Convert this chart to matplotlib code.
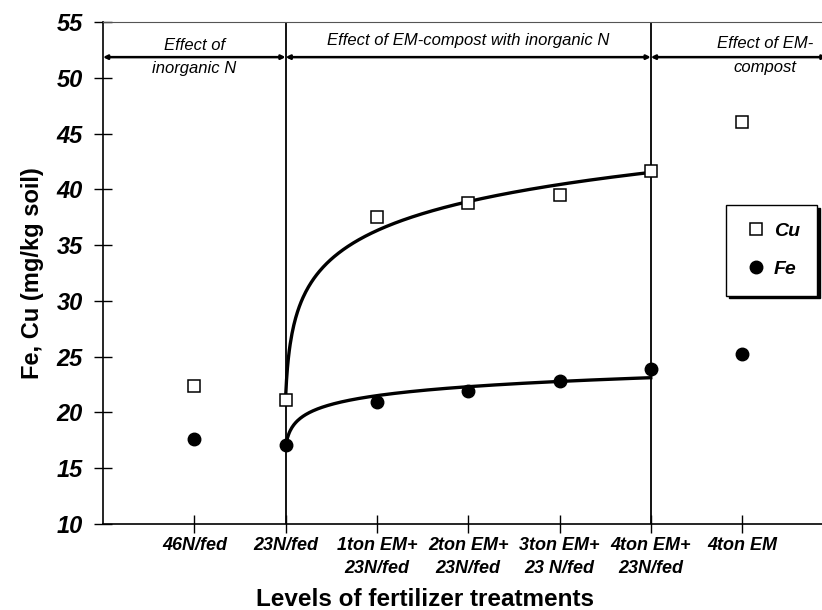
import numpy as np
import matplotlib
matplotlib.use("Agg")
import matplotlib.pyplot as plt

plt.rcParams['font.family'] = ['Liberation Sans', 'DejaVu Sans']

categories = ["46N/fed", "23N/fed", "1ton EM+\n23N/fed", "2ton EM+\n23N/fed",
              "3ton EM+\n23 N/fed", "4ton EM+\n23N/fed", "4ton EM"]
cu = [22.4, 21.1, 37.5, 38.8, 39.5, 41.6, 46.0]
fe = [17.6, 17.1, 20.9, 21.9, 22.8, 23.9, 25.2]
y_ticks = [10, 15, 20, 25, 30, 35, 40, 45, 50, 55]

pos = np.arange(1, len(categories) + 1)

W, H = 822, 610
fig = plt.figure(figsize=(W / 100, H / 100), dpi=100)
ax = fig.add_axes([103 / W, 1 - 524 / H, 1 - 103 / W, (524 - 22) / H])

ax.set_xlim(0, (W - 103) / 91.3)
ax.set_ylim(10, 55)

# logarithmic trend lines over the EM-compost + inorganic N treatments (positions 2..6)
x0 = 1.98
sel = slice(1, 6)
xx = np.linspace(pos[1], pos[5], 400)
for series in (cu, fe):
    t = np.log(pos[sel] - x0)
    a, b = np.polyfit(t, np.array(series[sel]), 1)
    ax.plot(xx, a * np.log(xx - x0) + b, color='black', lw=2.4, zorder=3)

# section dividers
for xv in (2, 6):
    ax.axvline(xv, color='black', lw=1.3, zorder=2)

# section arrows
ya = 51.85
xr = ax.get_xlim()[1]
for xa, xb in ((0, 2), (2, 6), (6, xr + 0.05)):
    ax.annotate('', xy=(xa, ya), xytext=(xb, ya),
                arrowprops=dict(arrowstyle='<|-|>', lw=1.8, color='black',
                                mutation_scale=6, shrinkA=0, shrinkB=0),
                annotation_clip=False, zorder=2)

ax.text(1.0, ya, "Effect of\ninorganic N", ha='center', va='center',
        fontsize=12, style='italic', linespacing=1.7)
ax.text(4.0, ya + 0.85, "Effect of EM-compost with inorganic N", ha='center',
        va='bottom', fontsize=12, style='italic')
ax.text(7.25, ya + 0.15, "Effect of EM-\ncompost", ha='center', va='center',
        fontsize=12, style='italic', linespacing=1.7)

ax.plot(pos, cu, linestyle='none', marker='s', markersize=8, markerfacecolor='white',
        markeredgecolor='black', markeredgewidth=1.1, label='Cu', zorder=4)
ax.plot(pos, fe, linestyle='none', marker='o', markersize=9, markerfacecolor='black',
        markeredgecolor='black', label='Fe', zorder=4)

ax.set_xticks(pos)
ax.set_xticklabels(categories, fontsize=13, fontweight='bold', style='italic',
                   linespacing=1.45)
ax.set_yticks(y_ticks)
ax.set_yticklabels([str(v) for v in y_ticks], fontsize=17, fontweight='bold',
                   style='italic')
ax.tick_params(axis='both', direction='inout', length=13, width=1, color='black')
ax.tick_params(axis='y', pad=8)
ax.tick_params(axis='x', pad=3)

ax.spines['right'].set_visible(False)
ax.spines['top'].set_color('#555555')
ax.spines['left'].set_linewidth(1.2)
ax.spines['bottom'].set_linewidth(1.2)

fig.text(425 / W, 1 - 600 / H, "Levels of fertilizer treatments", fontsize=17.5,
         fontweight='bold', ha='center', va='center')
ax.set_ylabel("Fe, Cu (mg/kg soil)", fontsize=17, fontweight='bold', labelpad=9)

leg = ax.legend(loc='upper left', bbox_to_anchor=(726 / W, 1 - 205 / H),
                bbox_transform=fig.transFigure, frameon=True, fancybox=False,
                shadow={'color': 'black', 'alpha': 1.0},
                prop={'size': 14, 'weight': 'bold', 'style': 'italic'},
                borderpad=0.9, labelspacing=1.05, handletextpad=0.25, handlelength=1.3,
                borderaxespad=0)
leg.get_frame().set_edgecolor('black')
leg.get_frame().set_linewidth(1.0)

fig.savefig("out.png", dpi=100)
